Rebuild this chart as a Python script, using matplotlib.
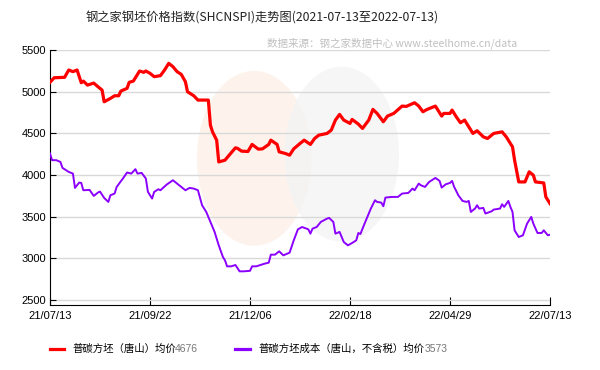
import numpy as np
import matplotlib
matplotlib.use("Agg")
import matplotlib.pyplot as plt
import matplotlib.patches as mpatches
from matplotlib.lines import Line2D

# trading-day index (0..240) and values
red_idx = [0, 2, 7, 9, 11, 13, 15, 16, 18, 21, 23, 25, 26, 29, 31, 33, 34, 37, 38, 40,
           43, 45, 46, 48, 50, 53, 55, 57, 59, 61, 63, 65, 66, 69, 71, 76, 77, 78, 80, 81,
           84, 86, 89, 90, 92, 95, 97, 100, 102, 105, 106, 109, 110, 113, 115, 117, 120, 122, 125, 127,
           129, 133, 135, 137, 139, 141, 144, 145, 148, 150, 153, 155, 157, 160, 162, 165, 169, 171, 175, 177,
           179, 181, 185, 188, 189, 192, 193, 195, 197, 199, 201, 203, 205, 208, 210, 213, 217, 219, 221, 222,
           223, 225, 228, 230, 232, 233, 237, 238, 240]
red_val = [5112, 5167, 5172, 5260, 5240, 5260, 5107, 5127, 5079, 5103, 5060, 5019, 4879, 4919, 4951, 4951, 5007, 5040, 5112, 5127,
           5248, 5232, 5248, 5220, 5180, 5192, 5260, 5340, 5300, 5240, 5208, 5119, 4999, 4951, 4899, 4899, 4598, 4518, 4418, 4157,
           4178, 4238, 4326, 4320, 4286, 4282, 4367, 4310, 4314, 4367, 4418, 4367, 4278, 4258, 4238, 4314, 4378, 4418, 4367, 4438,
           4478, 4499, 4538, 4659, 4727, 4659, 4619, 4667, 4611, 4559, 4659, 4787, 4739, 4639, 4707, 4739, 4827, 4823, 4867, 4827,
           4759, 4787, 4827, 4707, 4739, 4739, 4779, 4699, 4627, 4659, 4579, 4499, 4531, 4458, 4438, 4499, 4518, 4458, 4378, 4338,
           4178, 3917, 3917, 4038, 3998, 3917, 3905, 3737, 3657]

pur_idx = [0, 1, 3, 5, 6, 9, 11, 12, 14, 15, 16, 19, 21, 23, 24, 26, 28, 29, 31, 32,
           35, 37, 39, 41, 42, 44, 46, 47, 49, 50, 52, 53, 56, 59, 61, 63, 65, 67, 69, 71,
           73, 75, 77, 79, 81, 83, 84, 85, 87, 89, 91, 93, 96, 97, 99, 101, 103, 105, 106, 108,
           110, 112, 115, 117, 119, 121, 124, 125, 126, 128, 130, 133, 134, 136, 137, 139, 141, 143, 145, 147,
           148, 149, 151, 153, 154, 156, 157, 159, 160, 161, 164, 167, 169, 172, 174, 175, 177, 178, 180, 182,
           185, 187, 188, 190, 192, 193, 194, 196, 198, 200, 201, 202, 204, 205, 206, 208, 209, 212, 213, 216,
           217, 218, 220, 221, 222, 223, 225, 227, 229, 231, 232, 234, 236, 237, 239, 240]
pur_val = [4258, 4178, 4178, 4157, 4085, 4037, 4017, 3845, 3909, 3905, 3817, 3821, 3749, 3789, 3801, 3725, 3677, 3757, 3777, 3857,
           3958, 4030, 4017, 4070, 4017, 4025, 3958, 3798, 3717, 3797, 3829, 3817, 3885, 3937, 3897, 3857, 3817, 3845, 3837, 3817,
           3637, 3557, 3437, 3317, 3156, 3016, 2976, 2904, 2904, 2920, 2844, 2844, 2850, 2904, 2904, 2920, 2936, 2948, 3044, 3044,
           3084, 3036, 3068, 3216, 3348, 3376, 3348, 3296, 3356, 3376, 3437, 3477, 3485, 3437, 3296, 3317, 3196, 3156, 3184, 3216,
           3304, 3292, 3417, 3537, 3597, 3697, 3677, 3669, 3625, 3729, 3737, 3737, 3777, 3785, 3837, 3817, 3897, 3877, 3857, 3917,
           3965, 3929, 3849, 3889, 3905, 3929, 3857, 3757, 3689, 3677, 3689, 3557, 3597, 3637, 3597, 3605, 3537, 3565, 3585, 3597,
           3649, 3617, 3689, 3617, 3557, 3336, 3256, 3276, 3417, 3497, 3417, 3304, 3304, 3336, 3276, 3284]

tick_pos = [0, 48, 96, 144, 192, 240]
tick_lab = ["21/07/13", "21/09/22", "21/12/06", "22/02/18", "22/04/29", "22/07/13"]
y_ticks = [2500, 3000, 3500, 4000, 4500, 5000, 5500]

name_red = "普碳方坯（唐山）均价"
name_pur = "普碳方坯成本（唐山，不含税）均价"
avg_red = "4676"
avg_pur = "3573"

plt.rcParams['font.family'] = ['Liberation Sans', 'Noto Sans CJK SC']
cjk = ['Noto Sans CJK SC', 'DejaVu Sans']

fig = plt.figure(figsize=(6, 3.7), dpi=100)
ax = fig.add_axes([50/600, 1-305/370, 500/600, 255/370])

# faint logo behind the plot
logo_l = mpatches.Ellipse((98, 4200), 55, 2100, color='#fdf1e8', alpha=0.8, lw=0, zorder=0)
logo_r = mpatches.Ellipse((140, 4250), 55, 2100, color='#f4f4f4', alpha=0.8, lw=0, zorder=0)
ax.add_patch(logo_l)
ax.add_patch(logo_r)

ax.plot(red_idx, red_val, color='#ff0000', lw=2.3, zorder=3)
ax.plot(pur_idx, pur_val, color='#8b00ff', lw=1.4, zorder=3)

ax.set_xlim(0, 240)
ax.set_ylim(2440, 5500)
ax.set_yticks(y_ticks)
ax.set_xticks(tick_pos)
ax.set_xticklabels(tick_lab)
ax.grid(axis='y', color='#d9d9d9', lw=1)
ax.set_axisbelow(True)
ax.spines['top'].set_visible(False)
ax.spines['right'].set_visible(False)
ax.tick_params(direction='in', length=4, labelsize=8, color='black', pad=3)
ax.tick_params(axis='x', length=6, pad=4)

fig.text(262/600, 0.951, "钢之家钢坯价格指数(SHCNSPI)走势图(2021-07-13至2022-07-13)",
         ha='center', va='center', fontsize=8.8, family=cjk, color='#222222')
fig.text(517/600, 0.884, "数据来源：钢之家数据中心 www.steelhome.cn/data",
         ha='right', va='center', fontsize=7.6, family=cjk, color='#c0c0c0')

# legend drawn by hand (averages in grey)
ly = 1 - 349/370
fig.add_artist(Line2D([50/600, 64/600], [ly, ly], color='#ff0000', lw=2.3))
fig.text(72/600, ly, name_red, ha='left', va='center', fontsize=7.5, family=cjk)
fig.text(175/600, ly, avg_red, ha='left', va='center', fontsize=7.5, color='#777777')
fig.add_artist(Line2D([235/600, 250/600], [ly, ly], color='#8b00ff', lw=2.3))
fig.text(258/600, ly, name_pur, ha='left', va='center', fontsize=7.5, family=cjk)
fig.text(425/600, ly, avg_pur, ha='left', va='center', fontsize=7.5, color='#777777')

fig.savefig("out.png", dpi=100)
